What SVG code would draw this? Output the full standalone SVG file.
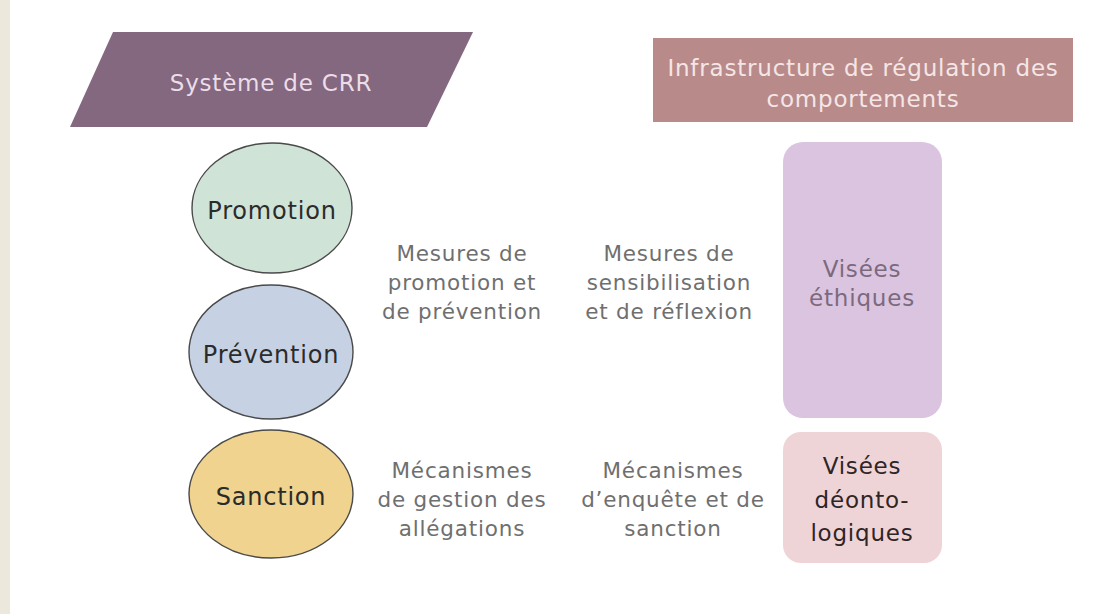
<svg xmlns="http://www.w3.org/2000/svg" width="1119" height="614" viewBox="0 0 1119 614">
  <style>
    text { font-family: "DejaVu Sans", "Liberation Sans", sans-serif; text-anchor: middle; letter-spacing: 0.8px; }
    .head { font-size: 23px; }
    .circ { stroke: #4a4a4a; stroke-width: 1.4; }
    .circ-label { font-size: 24px; fill: #2b2b2b; }
    .desc { font-size: 21.5px; fill: #6f6f6f; }
  </style>
  <!-- page background and side band -->
  <rect x="0" y="0" width="1119" height="614" fill="#ffffff"/>
  <rect x="0" y="0" width="10" height="614" fill="#ece8dc"/>

  <!-- header: CRR system -->
  <g id="systeme-crr">
    <polygon points="113,32 473,32 427,127 70,127" fill="#836880"/>
    <text class="head" x="271" y="91" fill="#ecdde8">Système de CRR</text>
  </g>

  <!-- header: regulation infrastructure -->
  <g id="infrastructure">
    <rect x="653" y="38" width="420" height="84" fill="#b98a8a"/>
    <text class="head" x="863" y="76" fill="#f5e6e6">Infrastructure de régulation des</text>
    <text class="head" x="863" y="107" fill="#f5e6e6">comportements</text>
  </g>

  <!-- left column ellipses -->
  <g id="promotion">
    <ellipse class="circ" cx="272" cy="208" rx="80" ry="65" fill="#d0e3d7"/>
    <text class="circ-label" x="272" y="219">Promotion</text>
  </g>
  <g id="prevention">
    <ellipse class="circ" cx="271" cy="352" rx="82" ry="67" fill="#c6d2e4"/>
    <text class="circ-label" x="271" y="363">Prévention</text>
  </g>
  <g id="sanction">
    <ellipse class="circ" cx="271" cy="494" rx="82" ry="64" fill="#f0d38e"/>
    <text class="circ-label" x="271" y="505">Sanction</text>
  </g>

  <!-- middle descriptions -->
  <g id="mesures-promotion">
    <text class="desc" x="462" y="261">Mesures de</text>
    <text class="desc" x="462" y="290">promotion et</text>
    <text class="desc" x="462" y="319">de prévention</text>
  </g>
  <g id="mesures-sensibilisation">
    <text class="desc" x="669" y="261">Mesures de</text>
    <text class="desc" x="669" y="290">sensibilisation</text>
    <text class="desc" x="669" y="319">et de réflexion</text>
  </g>
  <g id="mecanismes-gestion">
    <text class="desc" x="462" y="478">Mécanismes</text>
    <text class="desc" x="462" y="507">de gestion des</text>
    <text class="desc" x="462" y="536">allégations</text>
  </g>
  <g id="mecanismes-enquete">
    <text class="desc" x="673" y="478">Mécanismes</text>
    <text class="desc" x="673" y="507">d’enquête et de</text>
    <text class="desc" x="673" y="536">sanction</text>
  </g>

  <!-- right column aims -->
  <g id="visees-ethiques">
    <rect x="783" y="142" width="159" height="276" rx="20" fill="#dbc4e0"/>
    <text class="head" x="862" y="277" fill="#7b6a7e">Visées</text>
    <text class="head" x="862" y="306" fill="#7b6a7e">éthiques</text>
  </g>
  <g id="visees-deontologiques">
    <rect x="783" y="432" width="159" height="131" rx="18" fill="#eed4d7"/>
    <text class="head" x="862" y="474" fill="#2e2526">Visées</text>
    <text class="head" x="862" y="508" fill="#2e2526">déonto-</text>
    <text class="head" x="862" y="541" fill="#2e2526">logiques</text>
  </g>

  <g id="connectors"/>
</svg>
